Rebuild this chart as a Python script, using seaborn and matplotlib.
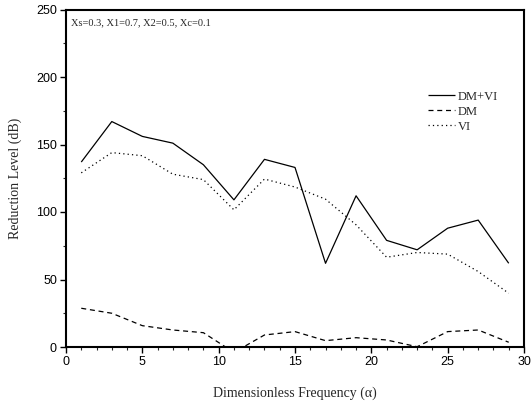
import matplotlib
matplotlib.use("Agg")
import matplotlib.pyplot as plt
from matplotlib.ticker import MultipleLocator
import seaborn as sns
import pandas as pd

freq = [1, 3, 5, 7, 9, 11, 13, 15, 17, 19, 21, 23, 25, 27, 29]
dm_vi = [137, 167, 156, 151, 135, 109, 139, 133, 62, 112, 79, 72, 88, 94, 62]
dm = [28.7, 25, 15.8, 12.6, 10.6, -4, 8.9, 11.4, 4.7, 6.9, 5.2, 0.2, 11.4, 12.6, 3.5]
vi = [129, 144, 141.7, 128, 124, 101.6, 124.4, 118.5, 109.5, 90.5, 66.5, 70, 68.8, 55.9, 39.8]
series_names = ["DM+VI", "DM", "VI"]
annotation = "Xs=0.3, X1=0.7, X2=0.5, Xc=0.1"

sns.set_theme(style="ticks")
plt.rcParams["font.family"] = ["Liberation Sans", "DejaVu Sans"]

fig = plt.figure(figsize=(5.32, 4.05), dpi=100)
ax = fig.add_axes([66/532, 58/405, 458/532, 337.5/405])

styles = [(0, ()), (0, (4, 3)), (0, (1, 2.5))]
for name, vals, ls in zip(series_names, [dm_vi, dm, vi], styles):
    df = pd.DataFrame({"x": freq, "y": vals})
    sns.lineplot(data=df, x="x", y="y", ax=ax, color="black", linewidth=0.9,
                 linestyle=ls, label=name)

ax.set_xlim(0, 30)
ax.set_ylim(0, 250)
ax.xaxis.set_major_locator(MultipleLocator(5))
ax.xaxis.set_minor_locator(MultipleLocator(1))
ax.yaxis.set_major_locator(MultipleLocator(50))
ax.yaxis.set_minor_locator(MultipleLocator(25))
ax.tick_params(which="major", direction="out", length=4.5, width=1.0, labelsize=9, colors="black", pad=2)
ax.tick_params(which="minor", direction="out", length=2.5, width=0.8)
for s in ax.spines.values():
    s.set_linewidth(1.5)
    s.set_color("black")

serif = ["Liberation Serif", "DejaVu Serif"]
ax.set_xlabel("Dimensionless Frequency (\u03b1)", fontsize=10, family=serif, labelpad=13)
ax.set_ylabel("Reduction Level (dB)", fontsize=10, family=serif, labelpad=10)
ax.text(0.012, 0.975, annotation, transform=ax.transAxes, fontsize=7.5,
        family=serif, va="top", ha="left")

leg = ax.legend(loc="upper left", bbox_to_anchor=(0.79, 0.76), frameon=False,
                prop={"family": serif, "size": 9}, handlelength=2.2,
                handletextpad=0.2, labelspacing=0.25, borderpad=0, borderaxespad=0)

fig.savefig("out.png", dpi=100)
